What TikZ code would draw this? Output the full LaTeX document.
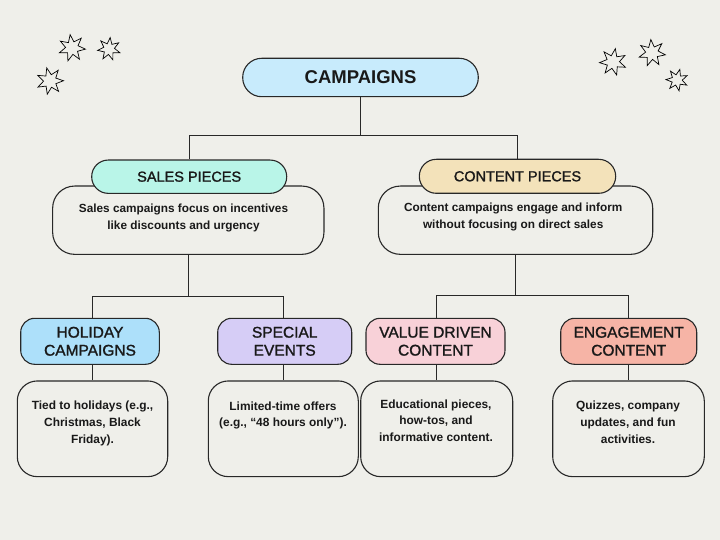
\documentclass[tikz,border=0pt]{standalone}
\usepackage{fontspec}
\setmainfont{Liberation Sans}
\newfontfamily\medfont[FakeBold=1.4]{Liberation Sans}
\usetikzlibrary{shapes.geometric}
\definecolor{bg}{RGB}{239,239,234}
\definecolor{linec}{RGB}{40,40,40}
\definecolor{txt}{RGB}{25,25,25}
\definecolor{cCamp}{RGB}{200,235,252}
\definecolor{cSales}{RGB}{185,245,232}
\definecolor{cContent}{RGB}{243,226,186}
\definecolor{cHoliday}{RGB}{173,224,250}
\definecolor{cSpecial}{RGB}{214,205,246}
\definecolor{cValue}{RGB}{248,209,216}
\definecolor{cEngage}{RGB}{246,180,166}
\tikzset{
  pillbox/.style={draw=linec, line width=1.1pt, inner sep=0pt, text=txt, align=center},
  titlefont/.style={font=\medfont\fontsize{14.5}{17}\selectfont},
  subfont/.style={font=\medfont\fontsize{15.5}{18}\selectfont},
  descbox/.style={draw=linec, line width=1.1pt, fill=bg, inner sep=0pt},
  desctext/.style={font=\bfseries\fontsize{11.9}{16.6}\selectfont, align=center, anchor=north, inner sep=0pt, text=txt},
  conn/.style={draw=linec, line width=1.1pt},
  doodle/.style={star, star points=7, star point ratio=2.1, draw=black, line width=0.7pt, inner sep=0pt, fill=bg}
}
\begin{document}
\begin{tikzpicture}[x=1pt,y=-1pt]
\useasboundingbox[fill=bg] (0,0) rectangle (720,540);

% stars
\node[doodle, minimum size=27pt, rotate=8] (s1) at (72,48) {};
\node[doodle, minimum size=23pt, rotate=-6] (s2) at (109,49) {};
\node[doodle, minimum size=27pt, rotate=14] (s3) at (50,81) {};
\node[doodle, minimum size=27pt, rotate=-10] (s4) at (613,62) {};
\node[doodle, minimum size=27pt, rotate=5] (s5) at (652,53) {};
\node[doodle, minimum size=22pt, rotate=-15] (s6) at (677,80) {};

% top
\node[pillbox, fill=cCamp, minimum width=235.6pt, minimum height=38.4pt, rounded corners=19pt,
      font=\bfseries\fontsize{18.5}{20}\selectfont] (camp) at (360.5,77.5) {CAMPAIGNS};

% second level
\node[descbox, minimum width=271.3pt, minimum height=68.3pt, rounded corners=22pt] (salesd) at (188.3,220.2) {};
\node[descbox, minimum width=274.4pt, minimum height=68.3pt, rounded corners=22pt] (contentd) at (515.5,220.2) {};
\node[pillbox, titlefont, fill=cSales, minimum width=195pt, minimum height=33.3pt, rounded corners=16.5pt] (sales) at (189.2,176.7) {SALES PIECES};
\node[pillbox, titlefont, fill=cContent, minimum width=196.4pt, minimum height=34pt, rounded corners=17pt] (content) at (517.5,176.3) {CONTENT PIECES};
\node[desctext, font=\bfseries\fontsize{11.8}{17.5}\selectfont] (salest) at (183.5,203.3) {Sales campaigns focus on incentives\\like discounts and urgency};
\node[desctext, font=\bfseries\fontsize{11.8}{17}\selectfont] (contentt) at (513.2,202.7) {Content campaigns engage and inform\\without focusing on direct sales};

% third level boxes
\node[descbox, minimum width=150.4pt, minimum height=95.7pt, rounded corners=20pt] (holidayd) at (92.5,428.8) {};
\node[descbox, minimum width=150pt, minimum height=95.7pt, rounded corners=20pt] (speciald) at (283.3,428.8) {};
\node[descbox, minimum width=152pt, minimum height=95.7pt, rounded corners=20pt] (valued) at (436.7,428.8) {};
\node[descbox, minimum width=151.6pt, minimum height=95.7pt, rounded corners=20pt] (engaged) at (628.5,428.8) {};

\node[pillbox, subfont, fill=cHoliday, minimum width=138.6pt, minimum height=46pt, rounded corners=14pt] (holiday) at (90,341.3) {HOLIDAY\\CAMPAIGNS};
\node[pillbox, subfont, fill=cSpecial, minimum width=134pt, minimum height=46pt, rounded corners=14pt] (special) at (284.7,341.3) {SPECIAL\\EVENTS};
\node[pillbox, subfont, fill=cValue, minimum width=139pt, minimum height=46pt, rounded corners=14pt] (value) at (435.5,341.3) {VALUE DRIVEN\\CONTENT};
\node[pillbox, subfont, fill=cEngage, minimum width=136pt, minimum height=46pt, rounded corners=14pt] (engage) at (628.7,341.3) {ENGAGEMENT\\CONTENT};

\node[desctext] (holidayt) at (92.5,401) {Tied to holidays (e.g.,\\Christmas, Black\\Friday).};
\node[desctext] (specialt) at (283,401.5) {Limited-time offers\\(e.g., “48 hours only”).};
\node[desctext] (valuet) at (436,399.5) {Educational pieces,\\how-tos, and\\informative content.};
\node[desctext] (engaget) at (628,401) {Quizzes, company\\updates, and fun\\activities.};

% connectors
\coordinate (j0) at (360.5,135.5);
\draw[conn] (camp.south) -- (j0);
\draw[conn] (sales.north) |- (j0);
\draw[conn] (content.north) |- (j0);

\coordinate (j1) at (188.3,296.5);
\draw[conn] (salesd.south) -- (j1);
\draw[conn] (holidayd.north |- holiday.north) |- (j1);
\draw[conn] (speciald.north |- special.north) |- (j1);
\draw[conn] (holiday.south -| holidayd.north) -- (holidayd.north);
\draw[conn] (special.south -| speciald.north) -- (speciald.north);

\coordinate (j2) at (515.5,295.5);
\draw[conn] (contentd.south) -- (j2);
\draw[conn] (valued.north |- value.north) |- (j2);
\draw[conn] (engaged.north |- engage.north) |- (j2);
\draw[conn] (value.south -| valued.north) -- (valued.north);
\draw[conn] (engage.south -| engaged.north) -- (engaged.north);
\end{tikzpicture}
\end{document}
